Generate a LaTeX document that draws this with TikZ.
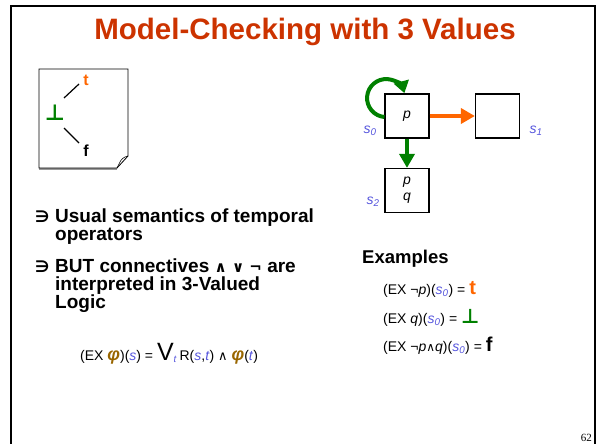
\documentclass[tikz,border=0pt]{standalone}
\usepackage{fontspec}
\setmainfont{Liberation Sans}
\setsansfont{Liberation Sans}
\newfontfamily\symfont{DejaVu Sans}
\newfontfamily\pgnumfont{Liberation Serif}
\usetikzlibrary{arrows.meta}
\definecolor{titlered}{RGB}{204,51,0}
\definecolor{torange}{RGB}{255,102,0}
\definecolor{bgreen}{RGB}{0,128,0}
\definecolor{sblue}{RGB}{85,85,221}
\definecolor{phibrown}{RGB}{153,102,0}
\tikzset{
  state/.style={draw,line width=1.2pt,minimum width=44pt,minimum height=44pt,inner sep=0pt,font=\fontsize{14}{15}\selectfont\itshape},
  slabel/.style={text=sblue,font=\fontsize{14}{15}\selectfont\itshape,inner sep=0pt},
  txt/.style={anchor=base west,inner sep=0pt},
  bullet/.style={anchor=base west,inner sep=0pt,font=\fontsize{19}{18}\selectfont\bfseries,align=left},
  bulletmark/.style={anchor=base west,inner sep=0pt,font=\fontsize{16}{15}\selectfont\symfont\bfseries},
  formula/.style={anchor=base west,inner sep=0pt,font=\fontsize{14}{15}\selectfont},
  latline/.style={line width=1.2pt},
  bigarrow/.style={line width=4pt,-{Triangle[length=14pt,width=15pt]}},
}
\newcommand{\sv}[1]{\textcolor{sblue}{\textit{#1}}}
\newcommand{\szero}{\textcolor{sblue}{\textit{s\textsubscript{0}}}}
\begin{document}
\begin{tikzpicture}[x=1pt,y=-1pt]
\useasboundingbox (0,0) rectangle (600,444);
% slide frame
\draw[line width=2.5pt] (11,450) -- (11,6) -- (595,6) -- (595,450);
% title
\node[anchor=base,inner sep=0pt,text=titlered,font=\fontsize{29.5}{33}\selectfont\bfseries] (title) at (305,40) {Model-Checking with 3 Values};

% lattice sheet with folded corner
\fill[gray!80] (39,168) -- (117,168) -- (117,169.5) -- (39,169.5) -- cycle;
\draw[line width=0.8pt] (39,168) -- (39,69) -- (128,69) -- (128,156) -- (117,168) -- cycle;
\draw[line width=0.6pt] (128,156) .. controls (123,157) and (121,160) .. (120,162) -- (117,168);
\node[inner sep=0pt,text=torange,font=\fontsize{16}{18}\selectfont\bfseries] (ltop) at (86,80) {t};
\node[inner sep=0pt,text=bgreen,font=\fontsize{22}{24}\selectfont\symfont\bfseries] (lmid) at (55,113) {⊥};
\node[inner sep=0pt,font=\fontsize{16}{18}\selectfont\bfseries] (lbot) at (86,151) {f};
\draw[latline] (64,98) -- (79,84);
\draw[latline] (64,128) -- (79,143);

% Kripke structure
\node[state] (s0) at (407,116) {p};
\node[state] (s1) at (497.5,116) {};
\node[state,align=center] (s2) at (407,190.5) {p\\[1pt]q};
\node[slabel] (l0) at (370,131) {s\textsubscript{0}};
\node[slabel] (l1) at (536,131) {s\textsubscript{1}};
\node[slabel] (l2) at (373,202) {s\textsubscript{2}};
\draw[torange,bigarrow] (s0.east) -- (s1.west);
\draw[bgreen,bigarrow] (s0.south) -- (s2.north);
% self-loop on s0 (arc angles are in canvas orientation)
\coordinate (loopstart) at (s0.west |- 0,117);
\draw[bgreen,line width=4pt,-{Triangle[length=12pt,width=15pt]}] (loopstart) arc[start angle=265,end angle=15,radius=19pt];

% bullets
\node[bulletmark] (b1m) at (35,222) {∋};
\node[bullet] (b1) at (55,240) {Usual semantics of temporal\\operators};
\node[bulletmark] (b2m) at (35,272) {∋};
\node[bullet] (b2) at (55,308) {BUT connectives {\symfont\fontsize{15}{15}\selectfont ∧ ∨ ¬} are\\interpreted in 3-Valued\\Logic};

% semantics of EX
\node[formula] (exdef) at (80,360) {(EX \textcolor{phibrown}{\fontsize{18}{17}\selectfont\bfseries\itshape φ})(\sv{s}) = {\fontsize{25}{24}\selectfont V}\textsubscript{\sv{t}}\,R(\sv{s},\sv{t}) {\symfont\fontsize{13}{12}\selectfont ∧} \textcolor{phibrown}{\fontsize{18}{17}\selectfont\bfseries\itshape φ}(\sv{t})};

% examples
\node[txt,font=\fontsize{18.5}{20}\selectfont\bfseries] (exh) at (362,263) {Examples};
\node[formula] (ex1) at (383,294) {(EX ¬\textit{p})(\szero) = \textcolor{torange}{\fontsize{20}{19}\selectfont\bfseries t}};
\node[formula] (ex2) at (383,323) {(EX \textit{q})(\szero) = \textcolor{bgreen}{\fontsize{20}{19}\selectfont\symfont\bfseries ⊥}};
\node[formula] (ex3) at (383,351) {(EX ¬\textit{p}{\symfont\fontsize{12}{11}\selectfont ∧}\textit{q})(\szero) = {\fontsize{20}{19}\selectfont\bfseries f}};

% page number
\node[anchor=base east,inner sep=0pt,font=\fontsize{11}{12}\selectfont\pgnumfont] (pg) at (592,441) {62};
\end{tikzpicture}
\end{document}
